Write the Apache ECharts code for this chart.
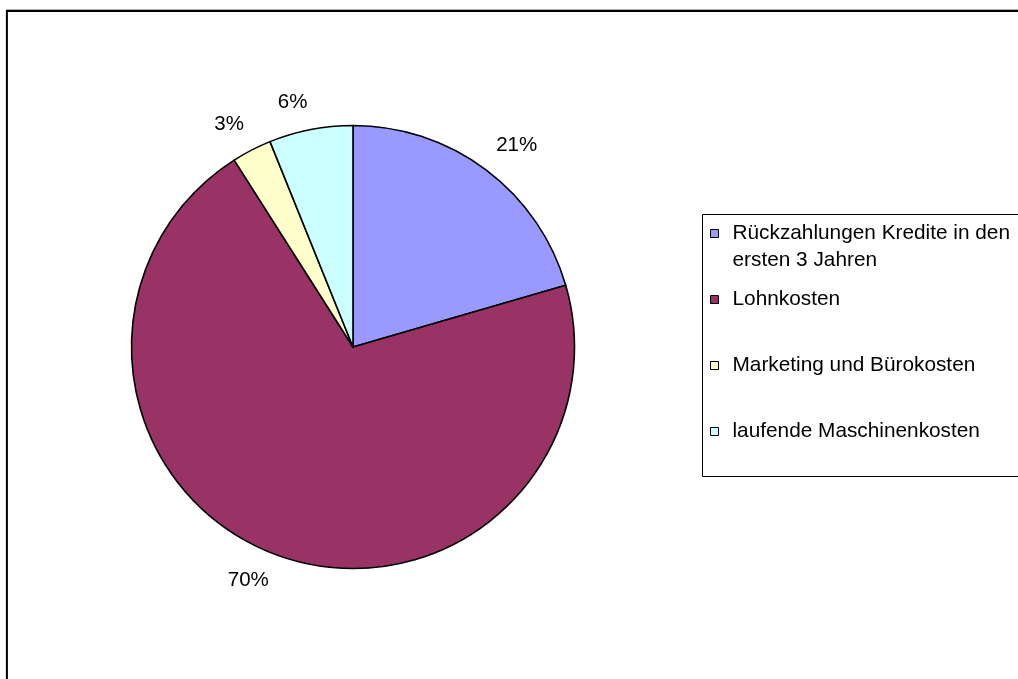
<!DOCTYPE html>
<html><head><meta charset="utf-8">
<script src="https://cdn.jsdelivr.net/npm/echarts@6/dist/echarts.min.js"></script>
<style>html,body{margin:0;padding:0;background:#fff}#c{width:1018px;height:679px}</style>
</head><body><div id="c"></div>
<script>
const categories = ['Rückzahlungen Kredite in den ersten 3 Jahren', 'Lohnkosten', 'Marketing und Bürokosten', 'laufende Maschinenkosten'];
const shares = [20.5, 70.49, 2.9, 6.11];
const colors = ['#9999FF', '#993366', '#FFFFCC', '#CCFFFF'];

const FONT = '"Liberation Sans", Arial, sans-serif';
const PIE_CENTER = [353, 347];
const MAX_CHARS = 30;

// greedy word wrap of legend names
function wrap(name) {
  const lines = [];
  let cur = '';
  name.split(' ').forEach(w => {
    if (cur && (cur + ' ' + w).length > MAX_CHARS) { lines.push(cur); cur = w; }
    else cur = cur ? cur + ' ' + w : w;
  });
  lines.push(cur);
  return lines;
}

const chart = echarts.init(document.getElementById('c'), null, {renderer: 'canvas'});
const legendData = categories.map(name => {
  const multi = wrap(name).length > 1;
  return {name: name, textStyle: multi ? {padding: [0, 0, 0, 9]} : {padding: [27, 0, 27, 9]}};
});
chart.setOption({
  backgroundColor: '#fff',
  animation: false,
  graphic: [
    {type: 'line', silent: true, shape: {x1: 6, y1: 9.5, x2: 1018, y2: 9.5}, style: {stroke: '#b0b0b0', lineWidth: 1}},
    {type: 'rect', silent: true, shape: {x: 6.9, y: 11, width: 1100, height: 800}, style: {fill: 'none', stroke: '#000', lineWidth: 2}},
    {type: 'rect', silent: true, shape: {x: 702.5, y: 214.5, width: 400, height: 262}, style: {fill: 'none', stroke: '#000', lineWidth: 1}}
  ],
  legend: {
    orient: 'vertical',
    left: 710,
    top: 193,
    padding: 0,
    itemGap: -15,
    itemWidth: 8,
    itemHeight: 8,
    icon: 'rect',
    selectedMode: false,
    itemStyle: {borderColor: '#000', borderWidth: 1},
    formatter: name => {
      const lines = wrap(name);
      return lines.length > 1 ? '\n' + lines.join('\n') : name;
    },
    textStyle: {fontFamily: FONT, fontSize: 20.8, color: '#000', lineHeight: 27},
    data: legendData
  },
  series: [{
    type: 'pie',
    center: PIE_CENTER,
    radius: 221.5,
    startAngle: 90,
    clockwise: true,
    silent: true,
    avoidLabelOverlap: false,
    percentPrecision: 0,
    itemStyle: {borderColor: '#000', borderWidth: 1.6},
    emphasis: {disabled: true},
    label: {show: true, position: 'outside', formatter: '{d}%', color: '#000', fontFamily: FONT, fontSize: 20.5, distanceToLabelLine: 0},
    labelLine: {show: false, length: 17, length2: 0},
    labelLayout: function (params) {
      const r = params.labelRect;
      const above = r.y + r.height / 2 < PIE_CENTER[1];
      return {dy: (above ? -1 : 1) * r.height / 2};
    },
    data: categories.map((name, i) => ({name: name, value: shares[i], itemStyle: {color: colors[i]}}))
  }]
});
</script></body></html>
